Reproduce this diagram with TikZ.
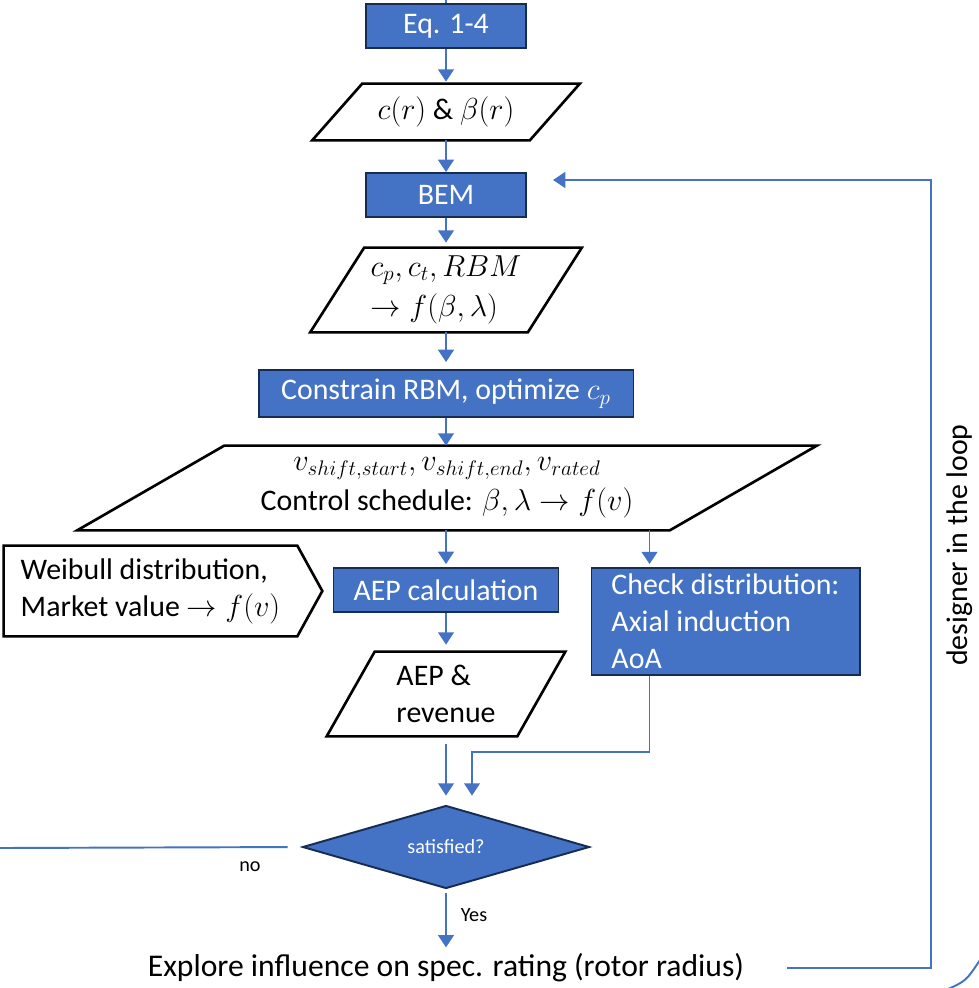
\documentclass[tikz,border=0pt]{standalone}
\usepackage{amsmath}
\usepackage{fontspec}
\setmainfont{Carlito}
\usepackage{tikz}
\usetikzlibrary{arrows.meta,calc,shapes.geometric}
\definecolor{boxblue}{HTML}{4472C4}
\definecolor{boxedge}{HTML}{172C51}
\definecolor{flowblue}{HTML}{4472C4}
\DeclareMathSizes{17}{18}{13}{10}

\newcommand{\mainsize}{\fontsize{17}{21}\selectfont}
\newcommand{\smallsize}{\fontsize{11.5}{14}\selectfont}
% slanted frame around an io node, #2 = slant in px
\newcommand{\drawpara}[2]{\draw[line width=1.5pt]
    (#1.south west) -- ($(#1.north west)+(#2,0)$) -- (#1.north east)
    -- ($(#1.south east)-(#2,0)$) -- cycle;}

\tikzset{
  proc/.style={draw=boxedge, fill=boxblue, line width=1.1pt, text=white,
    inner sep=0pt, font=\mainsize},
  io/.style={inner sep=0pt, font=\mainsize, align=center},
  flow/.style={draw=flowblue, line width=1.1pt, -{Triangle[length=7pt,width=9pt]}},
  plainline/.style={draw=flowblue, line width=1.1pt},
}

\begin{document}
\begin{tikzpicture}[x=0.02cm, y=-0.02cm]
\useasboundingbox (0,0) rectangle (978,988);

% main column
\node[proc, minimum width=3.2cm, minimum height=0.88cm] (eq) at (446,26) {Eq. 1-4};
\node[io, minimum width=5.34cm, minimum height=1.12cm] (cr) at (446,112)
    {$c(r)$ \& $\beta(r)$};
\node[proc, minimum width=3.2cm, minimum height=0.88cm] (bem) at (446,195) {BEM};
\node[io, align=left, minimum width=5.42cm, minimum height=1.68cm] (cp) at (446,290)
    {$c_p, c_t, RBM$\\[2pt]$\rightarrow f(\beta,\lambda)$};
\node[proc, minimum width=7.5cm, minimum height=0.94cm] (con) at (446,393.5)
    {Constrain RBM, optimize $c_p$};
\node[io, minimum width=14.78cm, minimum height=1.68cm] (ctrl) at (447,488)
    {$v_{shift,start}, v_{shift,end}, v_{rated}$\\[2pt]Control schedule: $\beta, \lambda \rightarrow f(v)$};
\node[proc, minimum width=4.5cm, minimum height=0.88cm] (aep) at (446,590) {AEP calculation};
\node[io, align=left, minimum width=4.76cm, minimum height=1.68cm] (rev) at (446,694)
    {AEP \&\\revenue};
\node[diamond, draw=boxedge, fill=boxblue, line width=1.1pt, text=white, inner sep=0pt,
    aspect=3.4, minimum width=5.74cm, minimum height=1.66cm, font=\smallsize] (sat) at (446,847)
    {satisfied?};
\node[inner sep=0pt, font=\fontsize{18}{22}\selectfont] (explore) at (446,968)
    {Explore influence on spec. rating (rotor radius)};

% side boxes
\node[io, align=left, inner xsep=0.25cm, minimum width=5.86cm, minimum height=1.8cm] (weib)
    at (150.5,591) {Weibull distribution,\\Market value $\rightarrow f(v)$};
\node[proc, align=left, inner xsep=0.4cm, minimum width=5.3cm, minimum height=2.14cm] (chk)
    at (725.5,621.5) {Check distribution:\\Axial induction\\AoA};

\drawpara{cr}{50}
\drawpara{cp}{54}
\drawpara{ctrl}{147}
\drawpara{rev}{48}
\draw[line width=1.5pt] (weib.north west) -- (weib.north east) -- ($(weib.east)+(25,0)$)
    -- (weib.south east) -- (weib.south west) -- cycle;

% labels
\node[font=\smallsize] (no) at (250,867) {no};
\node[font=\smallsize] (yes) at (474,915) {Yes};
\node[font=\mainsize, rotate=90] (designer) at (960,545) {designer in the loop};

% connectors
\coordinate (top) at (446,0);
\coordinate (chkin) at ($(chk.north west)+(59,0)$);
\coordinate (chkout) at ($(chk.south west)+(59,0)$);
\coordinate (join) at (472,752);
\coordinate (noend) at (0,848);
\coordinate (loopright) at (931,180);
\coordinate (loopin) at (553,180);

\draw[plainline] (top) -- (eq.north);
\draw[flow, shorten >=0.04cm] (eq.south) -- (cr.north);
\draw[flow] (cr.south) -- (bem.north);
\draw[flow, shorten >=0.1cm] (bem.south) -- (cp.north);
\draw[flow, shorten >=0.14cm] (cp.south) -- (con.north);
\draw[flow] (con.south) -- (con.south |- ctrl.north);
\draw[flow, shorten >=0.06cm] (aep.north |- ctrl.south) -- (aep.north);
\draw[flow, shorten >=0.06cm] (chkin |- ctrl.south) -- (chkin);
\draw[flow, shorten >=0.14cm] (aep.south) -- (rev.north);
\draw[flow, shorten <=0.16cm, shorten >=0.18cm] (rev.south) -- (sat.north);
\draw[flow, shorten >=0.18cm] (chkout) |- (join) -- (join |- sat.north);
\draw[plainline, shorten <=0.28cm] (sat.west) -- (noend);
\draw[flow, shorten <=0.08cm, shorten >=0.12cm] (sat.south) -- (explore.north);
\draw[flow, shorten <=0.86cm] (explore.east) -| (loopright) -- (loopin);

% arc cut by the right edge
\draw[plainline] (946,990) .. controls (966,981) .. (980,960);
\end{tikzpicture}
\end{document}
